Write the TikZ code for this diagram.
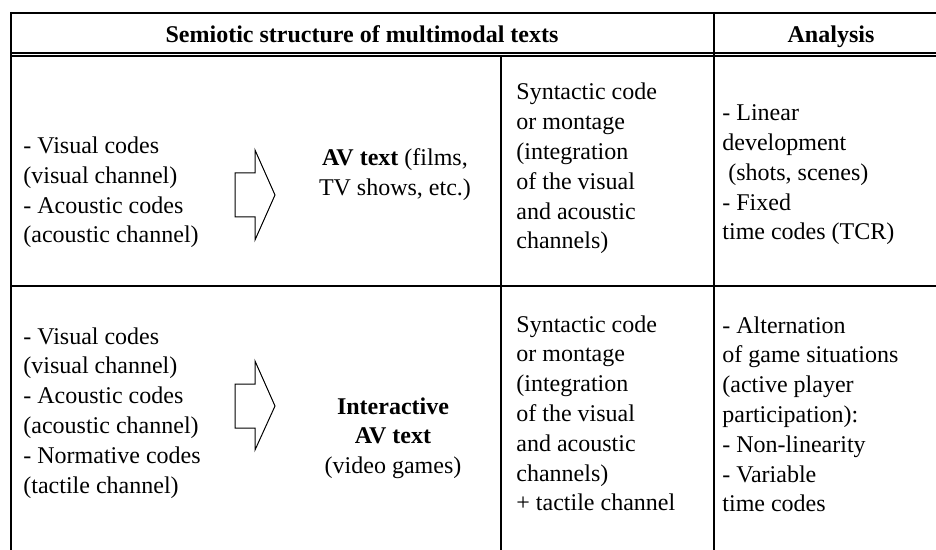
\documentclass[tikz,border=0pt]{standalone}
\usepackage{fontspec}
\setmainfont{Liberation Serif}
\usepackage{tikz}

\tikzset{
  celltext/.style={anchor=base west,inner sep=0pt,align=left,font=\fontsize{12}{14.9}\selectfont},
  midtext/.style={anchor=base,inner sep=0pt,align=center,font=\fontsize{12}{14.9}\selectfont},
  headtext/.style={anchor=base,inner sep=0pt,font=\fontsize{12}{14.9}\selectfont\bfseries},
  rule/.style={line width=1.15pt},
  thinrule/.style={line width=1pt},
  blockarrow/.style={line width=0.5pt,line join=miter}
}

\begin{document}
\begin{tikzpicture}[x=0.5pt,y=0.5pt,yscale=-1,xscale=1]
\useasboundingbox (0,0) rectangle (936,550);

%Straight Lines (frame)
\draw [rule] (10.7,13) -- (960,13) ;
\draw [thinrule] (10.7,52.7) -- (960,52.7) ;
\draw [thinrule] (10.7,56.3) -- (960,56.3) ;
\draw [rule] (10.7,286) -- (960,286) ;
\draw [rule] (10.7,12) -- (10.7,560) ;
\draw [rule] (501,56.3) -- (501,560) ;
\draw [rule] (714,12) -- (714,560) ;

%Shape: Right Arrow
\draw [blockarrow] (235,173) -- (255,173) -- (255,150) -- (275,195) -- (255,240) -- (255,217) -- (235,217) -- cycle ;
%Shape: Right Arrow
\draw [blockarrow] (235,384) -- (255,384) -- (255,361) -- (275,406) -- (255,450) -- (255,428) -- (235,428) -- cycle ;

% Text Node (base = last line)
\draw (362,42.5) node (headsem) [headtext] {Semiotic structure of multimodal texts};
% Text Node
\draw (831,42.5) node (headana) [headtext] {Analysis};

% Text Node
\draw (23,243) node (codesav) [celltext] {- Visual codes\\(visual channel)\\- Acoustic codes\\(acoustic channel)};
% Text Node
\draw (395,195.8) node (avtext) [midtext] {\textbf{AV text} (films,\\TV shows, etc.)};
% Text Node
\draw (516,249) node (syntav) [celltext] {Syntactic code\\or montage\\(integration\\of the visual\\and acoustic\\channels)};
% Text Node
\draw (722,240) node (anaav) [celltext] {- Linear\\development\\\hspace{0.25em}(shots, scenes)\\- Fixed\\time codes (TCR)};

% Text Node
\draw (23,493) node (codesint) [celltext] {- Visual codes\\(visual channel)\\- Acoustic codes\\(acoustic channel)\\- Normative codes\\(tactile channel)};
% Text Node
\draw (393,473.6) node (inttext) [midtext] {\textbf{Interactive}\\\textbf{AV text}\\(video games)};
% Text Node
\draw (516,510.8) node (syntint) [celltext] {Syntactic code\\or montage\\(integration\\of the visual\\and acoustic\\channels)\\+ tactile channel};
% Text Node
\draw (722,511.8) node (anaint) [celltext] {- Alternation\\of game situations\\(active player\\participation):\\- Non-linearity\\- Variable\\time codes};

\end{tikzpicture}
\end{document}
